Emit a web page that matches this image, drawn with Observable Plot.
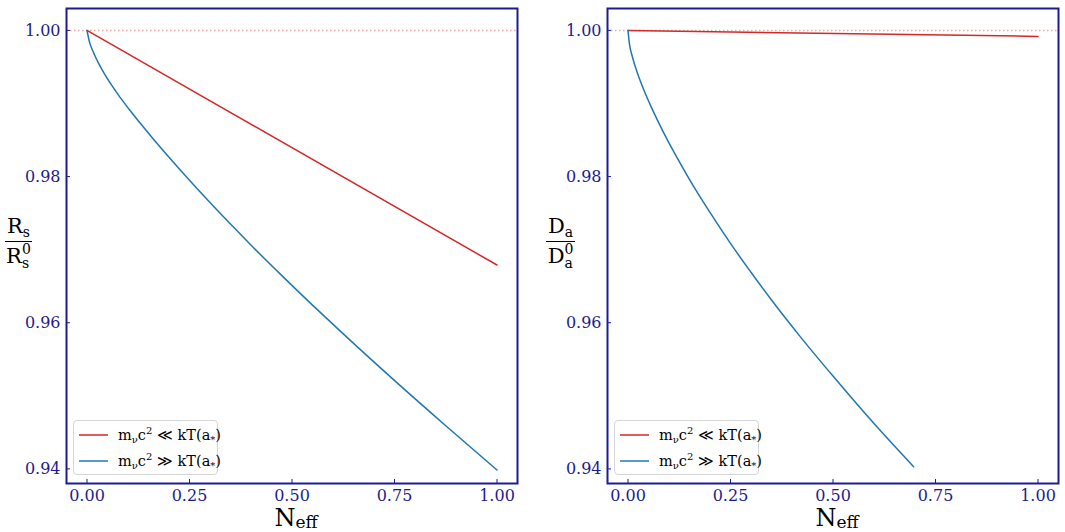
<!DOCTYPE html>
<html>
<head>
<meta charset="utf-8">
<script src="https://cdn.jsdelivr.net/npm/d3@7"></script>
<script src="https://cdn.jsdelivr.net/npm/@observablehq/plot@0.6"></script>
<style>
  html, body { margin: 0; padding: 0; background: #fff; }
  #wrap { position: relative; width: 1065px; height: 532px; font-family: "DejaVu Serif", serif; }
  .panel { position: absolute; top: 0; }
  .ylab { position: absolute; font-size: 21px; color: #000; text-align: center; line-height: 1; }
  .ylab .num { display: block; padding: 0 2px 4px 2px; border-bottom: 1.3px solid #000; }
  .ylab .den { display: block; padding-top: 4px; }
  .ylab .s { font-size: 14px; position: relative; top: 4px; }
  .ylab .ss { display: inline-block; position: relative; width: 9px; height: 21px; vertical-align: top; font-size: 14px; line-height: 14px; }
  .ylab .ss span { position: absolute; left: 0; }
  .xlab { position: absolute; font-size: 24px; line-height: 20px; color: #000; white-space: nowrap; transform: translateX(-50%); }
  .xlab .s { font-size: 17px; line-height: 14px; position: relative; top: 2px; }
  .legend { position: absolute; width: 145px; height: 55px; border: 1px solid #d6d6d6; border-radius: 4px; background: rgba(255,255,255,0.85); font-size: 14.5px; box-sizing: border-box; }
  .legend .row { position: absolute; left: 5px; height: 22px; display: flex; align-items: center; white-space: nowrap; }
  .legend svg { margin-right: 10px; }
  .legend .sb { font-size: 10px; position: relative; top: 3px; }
  .legend .sp { font-size: 10px; position: relative; top: -6px; }
</style>
</head>
<body>
<div id="wrap"></div>
<script>
// ---- data ----
const xTicks = [0, 0.25, 0.5, 0.75, 1.0];
const yTicks = [0.94, 0.96, 0.98, 1.00];
const seriesNames = ["low", "high"]; // m_nu c^2 << kT , m_nu c^2 >> kT
const seriesColors = ["#d62728", "#1f77b4"];

// Left panel: R_s / R_s^0
const leftRedN   = [0, 1.0];
const leftRedV   = [1.0, 0.9679];
const leftBlueN  = [0, 0.0056, 0.0137, 0.0259, 0.0422, 0.0585, 0.0746, 0.1056, 0.154, 0.2, 0.25, 0.3, 0.35, 0.405, 0.4715, 0.55, 0.625, 0.751, 0.875, 1.0];
const leftBlueV  = [1.0, 0.99851, 0.99726, 0.99577, 0.9941, 0.99264, 0.99132, 0.9890, 0.98566, 0.98265, 0.9795, 0.97645, 0.9735, 0.97034, 0.96665, 0.96241, 0.95847, 0.95204, 0.9459, 0.93984];

// Right panel: D_a / D_a^0
const rightRedN  = [0, 1.0];
const rightRedV  = [1.0, 0.99918];
const rightBlueN = [0, 0.0032, 0.0112, 0.0234, 0.0397, 0.056, 0.072, 0.0963, 0.1207, 0.1596, 0.2, 0.258, 0.3, 0.35, 0.42, 0.5, 0.6, 0.6966];
const rightBlueV = [1.0, 0.9983, 0.9963, 0.9941, 0.9917, 0.9896, 0.9877, 0.9850, 0.9825, 0.9787, 0.9751, 0.9702, 0.9669, 0.9631, 0.9581, 0.9527, 0.9462, 0.9403];

const navy = "#1c1c8f";

function rows(N, V, s) { return N.map((n, i) => ({N: n, v: V[i], s})); }

function panel(data) {
  return Plot.plot({
    width: 540,
    height: 532,
    marginLeft: 66,
    marginRight: 23,
    marginTop: 8,
    marginBottom: 49,
    style: {fontFamily: "DejaVu Serif, serif", fontSize: "16px", background: "transparent", overflow: "visible"},
    x: {domain: [-0.05, 1.05], ticks: xTicks, tickFormat: d3.format(".2f")},
    y: {domain: [0.938, 1.003], ticks: yTicks, tickFormat: d3.format(".2f")},
    color: {domain: seriesNames, range: seriesColors},
    marks: [
      Plot.ruleY([1], {stroke: "#e8474a", strokeOpacity: 0.5, strokeWidth: 1.5, strokeDasharray: "1.5,2.5"}),
      Plot.line(data, {x: "N", y: "v", z: "s", stroke: "s", strokeWidth: 1.5, curve: "monotone-x"}),
      Plot.axisX({ticks: xTicks, tickSize: -4, tickPadding: 10, tickFormat: d3.format(".2f"), color: navy, stroke: navy, fill: navy, label: null, fontSize: 16}),
      Plot.axisY({ticks: yTicks, tickSize: -4, tickPadding: 10, tickFormat: d3.format(".2f"), color: navy, stroke: navy, fill: navy, label: null, fontSize: 16}),
      Plot.frame({stroke: navy, strokeWidth: 2})
    ]
  });
}

const leftData = [...rows(leftRedN, leftRedV, "low"), ...rows(leftBlueN, leftBlueV, "high")];
const rightData = [...rows(rightRedN, rightRedV, "low"), ...rows(rightBlueN, rightBlueV, "high")];

const wrap = document.getElementById("wrap");
const p1 = panel(leftData);  p1.classList.add("panel"); p1.style.left = "0px";
const p2 = panel(rightData); p2.classList.add("panel"); p2.style.left = "541px";
wrap.appendChild(p1);
wrap.appendChild(p2);

function addHTML(html) { wrap.insertAdjacentHTML("beforeend", html); }

// y labels (fractions)
function ylab(left, L, sub) {
  return `<div class="ylab" style="left:${left}px; top:216px;"><span class="num">${L}<span class="s">${sub}</span></span><span class="den">${L}<span class="ss"><span style="top:-4px">0</span><span style="top:10px">${sub}</span></span></span></div>`;
}
addHTML(ylab(5, "R", "s"));
addHTML(ylab(546, "D", "a"));

// x labels
addHTML(`<div class="xlab" style="left:296px; top:508px;">N<span class="s">eff</span></div>`);
addHTML(`<div class="xlab" style="left:837px; top:508px;">N<span class="s">eff</span></div>`);

// legends
const legendLabels = [
  `m<span class="sb">ν</span>c<span class="sp">2</span> ≪ kT(a<span class="sb">*</span>)`,
  `m<span class="sb">ν</span>c<span class="sp">2</span> ≫ kT(a<span class="sb">*</span>)`
];
function legend(left) {
  const r = (i, top) => `<div class="row" style="top:${top}px;"><svg width="29" height="4"><line x1="0" x2="29" y1="2" y2="2" stroke="${seriesColors[i]}" stroke-width="1.5"/></svg><span>${legendLabels[i]}</span></div>`;
  return `<div class="legend" style="left:${left}px; top:420px;">${r(0, 3)}${r(1, 29)}</div>`;
}
addHTML(legend(73));
addHTML(legend(614));
</script>
</body>
</html>
